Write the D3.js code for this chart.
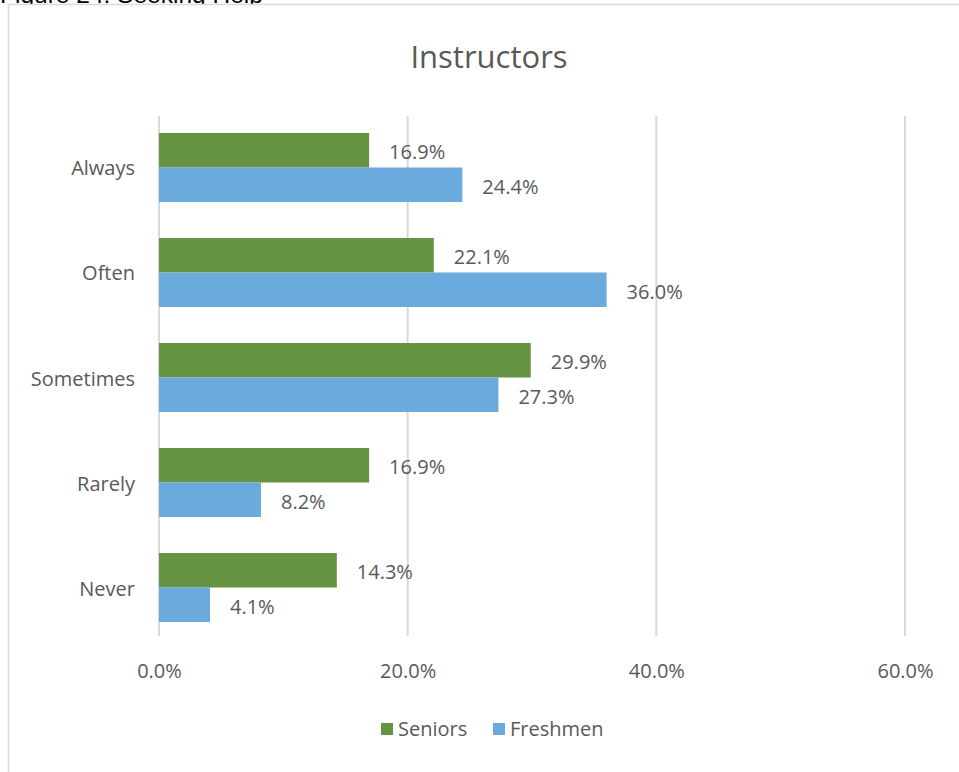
<!DOCTYPE html>
<html>
<head>
<meta charset="utf-8">
<script src="https://cdn.jsdelivr.net/npm/d3@7"></script>
<style>
  html, body { margin: 0; padding: 0; background: #fff; overflow: hidden; }
  svg { display: block; }
</style>
</head>
<body>
<svg id="chart" width="959" height="772"></svg>
<script>
// Survey responses: how often students seek help from instructors
const categories = ["Always", "Often", "Sometimes", "Rarely", "Never"];
const seriesNames = ["Seniors", "Freshmen"];
const seniors = [16.9, 22.1, 29.9, 16.9, 14.3];
const freshmen = [24.4, 36.0, 27.3, 8.2, 4.1];
const xTicks = [0, 20, 40, 60];
const colors = ["#659342", "#6aaadd"];

const svg = d3.select("#chart");
const font = "'Open Sans', 'Noto Sans', sans-serif";
const textColor = "#595959";

// figure caption, running off the top of the page
svg.append("text")
  .attr("x", 0).attr("y", 3)
  .attr("font-family", "'Liberation Sans', Arial, sans-serif")
  .attr("font-size", 24.5)
  .attr("fill", "#000")
  .text("Figure 24: Seeking Help");

// chart frame
svg.append("rect")
  .attr("x", 8.5).attr("y", 4.5)
  .attr("width", 1000).attr("height", 1000)
  .attr("fill", "#fff")
  .attr("stroke", "#d9d9d9").attr("stroke-width", 1.5);

const plot = { left: 159, right: 905, top: 116, bottom: 636 };

const x = d3.scaleLinear().domain([0, 60]).range([plot.left, plot.right]);
const y = d3.scaleBand().domain(categories).range([133, 622]).paddingInner(0.343).paddingOuter(0);
const ySub = d3.scaleBand().domain(seriesNames).range([0, y.bandwidth()]);

// title
svg.append("text")
  .attr("x", 489).attr("y", 68)
  .attr("text-anchor", "middle")
  .attr("font-family", font).attr("font-size", 31)
  .attr("fill", textColor)
  .text("Instructors");

// vertical gridlines
svg.append("g").selectAll("line").data(xTicks).join("line")
  .attr("x1", d => x(d)).attr("x2", d => x(d))
  .attr("y1", plot.top).attr("y2", plot.bottom)
  .attr("stroke", "#d9d9d9").attr("stroke-width", 2);

// x axis labels
const xAxis = d3.axisBottom(x).tickValues(xTicks).tickSize(0).tickPadding(0)
  .tickFormat(d => d.toFixed(1) + "%");
const gx = svg.append("g").attr("transform", `translate(0, ${plot.bottom + 28})`).call(xAxis);
gx.select(".domain").remove();
gx.selectAll("text")
  .attr("font-family", font).attr("font-size", 20).attr("fill", textColor)
  .attr("dy", "0.71em");

// y axis labels
const yAxis = d3.axisLeft(y).tickSize(0).tickPadding(24);
const gy = svg.append("g").attr("transform", `translate(${plot.left}, 0)`).call(yAxis);
gy.select(".domain").remove();
gy.selectAll("text")
  .attr("font-family", font).attr("font-size", 20).attr("fill", textColor)
  .attr("dy", "0.4em");

// bars + value labels
const rows = categories.map((c, i) => ({ cat: c, values: [seniors[i], freshmen[i]] }));
const groups = svg.append("g").selectAll("g").data(rows).join("g")
  .attr("transform", d => `translate(0, ${y(d.cat)})`);

groups.selectAll("rect")
  .data(d => d.values.map((v, j) => ({ name: seriesNames[j], v, j })))
  .join("rect")
  .attr("x", x(0))
  .attr("y", d => ySub(d.name))
  .attr("width", d => x(d.v) - x(0))
  .attr("height", ySub.bandwidth())
  .attr("fill", d => colors[d.j]);

groups.selectAll("text")
  .data(d => d.values.map((v, j) => ({ name: seriesNames[j], v, j })))
  .join("text")
  .attr("x", d => x(d.v) + 20)
  .attr("y", d => ySub(d.name) + ySub.bandwidth() / 2 + 2)
  .attr("dy", "0.35em")
  .attr("font-family", font).attr("font-size", 20)
  .attr("fill", textColor)
  .text(d => d.v.toFixed(1) + "%");

// legend
const legend = svg.append("g").attr("transform", "translate(381, 729)");
const legendX = [0, 112];
seriesNames.forEach((name, i) => {
  const g = legend.append("g").attr("transform", `translate(${legendX[i]}, 0)`);
  g.append("rect").attr("x", 0).attr("y", -6).attr("width", 12).attr("height", 12).attr("fill", colors[i]);
  g.append("text").attr("x", 17).attr("y", 0).attr("dy", "0.35em")
    .attr("font-family", font).attr("font-size", 20).attr("fill", textColor)
    .text(name);
});
</script>
</body>
</html>
